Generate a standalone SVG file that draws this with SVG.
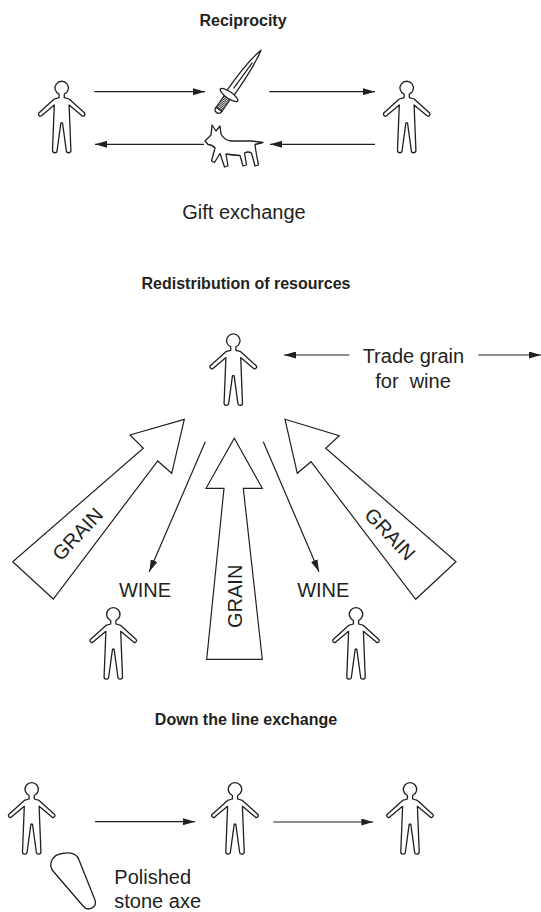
<svg xmlns="http://www.w3.org/2000/svg" width="541" height="912" viewBox="0 0 541 912">
  <style>
    .title { font-family: "Liberation Sans", Arial, sans-serif; font-weight: bold; font-size: 16px; fill: #231f20; text-anchor: middle; }
    .label { font-family: "Liberation Sans", Arial, sans-serif; font-size: 20px; fill: #231f20; text-anchor: middle; }
    .fig { fill: #fff; stroke: #231f20; stroke-width: 1.3; stroke-linejoin: round; }
    .big { fill: #fff; stroke: #231f20; stroke-width: 1.2; stroke-linejoin: miter; }
    .con { stroke: #231f20; stroke-width: 1.2; fill: none; }
  </style>
  <defs>
    <marker id="ah" markerWidth="12" markerHeight="7" refX="12" refY="3.5" orient="auto" markerUnits="userSpaceOnUse">
      <path d="M0,0 L12,3.5 L0,7 Z" fill="#231f20"/>
    </marker>
    <pattern id="grip" width="3" height="1.6" patternUnits="userSpaceOnUse">
      <rect width="3" height="1.6" fill="#fff"/>
      <rect width="3" height="0.9" fill="#333"/>
    </pattern>
    <!-- standing figure, origin at the centre of the head -->
    <path id="person" class="fig" d="M -2.6,6.1 A 6.7 6.7 0 1 1 2.6,6.1 L 2.6,9.6 L 7.4,11 L 22.9,25 A 1.9 1.9 0 0 1 20.3,27.7 L 7.4,16.9 L 9.2,62.3 A 2.3 2.3 0 0 1 4.6,62.6 L 0.9,35.5 A 0.9 0.9 0 0 0 -0.9,35.5 L -4.6,62.6 A 2.3 2.3 0 0 1 -9.2,62.3 L -7.4,16.9 L -20.3,27.7 A 1.9 1.9 0 0 1 -22.9,25 L -7.4,11 L -2.6,9.6 Z"/>
  </defs>

  <!-- Reciprocity -->
  <text class="title" x="243" y="26">Reciprocity</text>
  <g id="recip-giver"><use href="#person" x="61.7" y="88"/></g>
  <g id="recip-receiver"><use href="#person" x="406.7" y="88"/></g>
  <g id="sword" transform="translate(229,95) rotate(35)">
    <path class="fig" stroke-width="1.1" d="M -4.3,-2 C -4.3,-28 -2.5,-44 0.5,-55 C 3,-44 4.3,-28 4.3,-2 Z"/>
    <path class="con" stroke-width="0.9" d="M 0,-8 L 0.6,-40"/>
    <rect x="-3.6" y="2.5" width="7.2" height="15" fill="url(#grip)" stroke="#231f20" stroke-width="1.1"/>
    <path class="fig" stroke-width="1.1" d="M -3.6,17.5 L 3.6,17.5 Q 3.6,21.5 0,21.5 Q -3.6,21.5 -3.6,17.5 Z"/>
    <ellipse class="fig" stroke-width="1.1" cx="0" cy="0" rx="10.5" ry="3.3"/>
  </g>
  <g id="dog">
    <path class="fig" stroke-width="1.2" d="M 205,141 L 211,135 L 212,125 L 216,131 L 220,126 L 221,134 Q 224,140 231,141 L 252,141 L 263,142.5 L 255,144.5 Q 256,153 258.5,165 L 255,166 L 251.5,153 Q 248,151 244.5,153 L 246.5,165 L 243,166 L 240,155.5 Q 232,155 226,154 L 228,166 L 224.5,167 L 220,153.5 L 214.5,162.5 L 211.5,161 L 215,148 Q 212,144.5 208,144.5 Z"/>
  </g>
  <text class="label" x="244" y="219">Gift exchange</text>

  <!-- Redistribution of resources -->
  <text class="title" x="246" y="289">Redistribution of resources</text>
  <g id="chief"><use href="#person" x="233.3" y="340.7"/></g>
  <text class="label" x="413.4" y="362.5">Trade grain</text>
  <text class="label" x="413" y="388" xml:space="preserve">for  wine</text>
  <g id="grain-left">
    <polygon class="big" points="184.3,419.3 130,435 143.3,448.3 12.7,561.7 53.3,599 157.7,461 171.7,473.3"/>
    <text class="label" transform="translate(77.5,534) rotate(-46.8)" dy="7">GRAIN</text>
  </g>
  <g id="grain-middle">
    <polygon class="big" points="234.3,438.3 262.3,488.3 243.3,488.3 262.3,659.3 206.7,659.3 224,488.3 206,488.3"/>
    <text class="label" transform="translate(234.5,596.3) rotate(-90)" dy="7">GRAIN</text>
  </g>
  <g id="grain-right">
    <polygon class="big" points="285,419.3 339.3,435.7 325.7,448.3 456,561.7 415.7,599.3 311,461.7 297.3,473.3"/>
    <text class="label" transform="translate(390,534) rotate(46.9)" dy="7">GRAIN</text>
  </g>
  <text class="label" x="145" y="596.7">WINE</text>
  <text class="label" x="323.3" y="597.3">WINE</text>
  <g id="farmer-left"><use href="#person" x="113.3" y="614.4"/></g>
  <g id="farmer-right"><use href="#person" x="356" y="614.4"/></g>

  <!-- Down the line exchange -->
  <text class="title" x="246" y="725">Down the line exchange</text>
  <g id="line-1"><use href="#person" x="31.7" y="789.4"/></g>
  <g id="line-2"><use href="#person" x="235" y="789.4"/></g>
  <g id="line-3"><use href="#person" x="410" y="789.4"/></g>
  <g id="axe">
    <path class="fig" d="M 53,871 C 48,864 52,855 62,853.5 C 70,852 77,853.5 79,860 L 95,900 C 97.5,907 88.5,912 83.5,906.5 Z"/>
  </g>
  <text class="label" x="114.3" y="884" text-anchor="start" style="text-anchor:start">Polished</text>
  <text class="label" x="114.3" y="908.3" style="text-anchor:start">stone axe</text>

  <!-- connectors -->
  <g id="connectors">
    <line class="con" x1="94.3" y1="91.7" x2="205" y2="91.7" marker-end="url(#ah)"/>
    <line class="con" x1="269.3" y1="91.7" x2="375" y2="91.7" marker-end="url(#ah)"/>
    <line class="con" x1="204" y1="144.3" x2="95" y2="144.3" marker-end="url(#ah)"/>
    <line class="con" x1="375" y1="144.3" x2="270" y2="144.3" marker-end="url(#ah)"/>
    <line class="con" x1="349.3" y1="355" x2="284" y2="355" marker-end="url(#ah)"/>
    <line class="con" x1="478.3" y1="355" x2="541" y2="355" marker-end="url(#ah)"/>
    <line class="con" x1="205.3" y1="441.7" x2="149.3" y2="571.7" marker-end="url(#ah)"/>
    <line class="con" x1="263.3" y1="441.7" x2="319" y2="571.7" marker-end="url(#ah)"/>
    <line class="con" x1="95" y1="821.7" x2="195" y2="821.7" marker-end="url(#ah)"/>
    <line class="con" x1="273.3" y1="822" x2="373.3" y2="822" marker-end="url(#ah)"/>
  </g>
</svg>
